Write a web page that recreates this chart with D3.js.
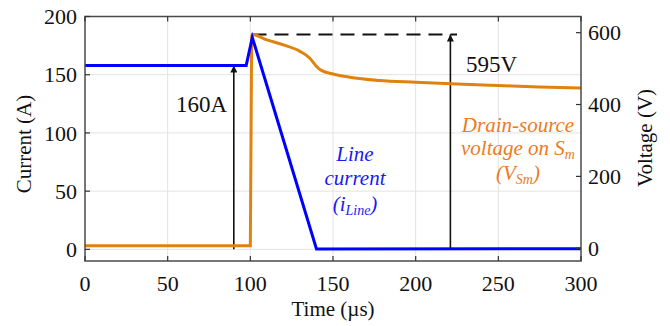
<!DOCTYPE html>
<html>
<head>
<meta charset="utf-8">
<script src="https://cdn.jsdelivr.net/npm/d3@7"></script>
<style>
  body { margin: 0; background: #fff; }
  svg { display: block; }
  #chart text { font-family: 'Times New Roman', 'Liberation Serif', 'DejaVu Serif', 'Noto Serif', Times, serif; }
</style>
</head>
<body>
<svg id="chart" width="670" height="326"></svg>
<script>
// Line current (left axis, A).
const timeI = [0, 97.5, 101.2, 140, 300];
const currentI = [158, 158, 182, 0.3, 0.6];
// Drain-source voltage (right axis, V).
const timeV = [0, 100, 100.8, 101.3, 110, 120, 130, 136, 140, 143, 150, 160, 178, 200, 225, 250, 275, 300];
const voltageV = [7, 7, 588, 595, 580, 566, 548, 529, 506, 495, 485, 476, 467, 462, 457, 453, 449, 446];
// Ticks.
const xTicks = [0, 50, 100, 150, 200, 250, 300];
const yLeftTicks = [0, 50, 100, 150, 200];
const yRightTicks = [0, 200, 400, 600];
// Annotations.
const currentArrow = { t: 90, value: 158, label: "160A" };
const voltageArrow = { t: 221, value: 595, label: "595V" };
const peakLine = { from: 101.3, to: 225, value: 595 };

const svg = d3.select("#chart");
const plot = { left: 85, right: 581, top: 16.5, bottom: 261 };

// Scales.
const x = d3.scaleLinear().domain([0, 300]).range([plot.left, plot.right]);
const yL = d3.scaleLinear().domain([-10, 200]).range([plot.bottom, plot.top]);
const yR = d3.scaleLinear().domain([-35.5, 645]).range([plot.bottom, plot.top]);

// Grid lines.
const grid = svg.append("g").attr("stroke", "#e3e3e3").attr("stroke-width", 1);
xTicks.slice(1, -1).forEach(t => {
  grid.append("line")
    .attr("x1", x(t)).attr("x2", x(t))
    .attr("y1", plot.top).attr("y2", plot.bottom);
});
yLeftTicks.slice(0, -1).forEach(v => {
  grid.append("line")
    .attr("x1", plot.left).attr("x2", plot.right)
    .attr("y1", yL(v)).attr("y2", yL(v));
});

// Clip for the curves.
svg.append("clipPath").attr("id", "clip")
  .append("rect")
  .attr("x", plot.left).attr("y", plot.top)
  .attr("width", plot.right - plot.left).attr("height", plot.bottom - plot.top);

// Dashed line at the peak voltage.
svg.append("line")
  .attr("x1", x(peakLine.from)).attr("x2", x(peakLine.to))
  .attr("y1", yR(peakLine.value)).attr("y2", yR(peakLine.value))
  .attr("stroke", "#111")
  .attr("stroke-width", 2)
  .attr("stroke-dasharray", "14,8");

// Arrows.
svg.append("defs").append("marker")
  .attr("id", "head")
  .attr("viewBox", "0 0 10 10")
  .attr("refX", 10).attr("refY", 5)
  .attr("markerWidth", 10).attr("markerHeight", 7)
  .attr("markerUnits", "userSpaceOnUse")
  .attr("orient", "auto")
  .append("path")
  .attr("d", "M0,0 L10,5 L0,10 Z")
  .attr("fill", "#111");

svg.append("line")
  .attr("x1", x(currentArrow.t)).attr("x2", x(currentArrow.t))
  .attr("y1", yL(0)).attr("y2", yL(currentArrow.value))
  .attr("stroke", "#111").attr("stroke-width", 1.6)
  .attr("marker-end", "url(#head)");
svg.append("line")
  .attr("x1", x(voltageArrow.t)).attr("x2", x(voltageArrow.t))
  .attr("y1", yR(0)).attr("y2", yR(voltageArrow.value))
  .attr("stroke", "#111").attr("stroke-width", 1.6)
  .attr("marker-end", "url(#head)");

// Curves.
const lineI = d3.line().x((d, i) => x(timeI[i])).y(d => yL(d));
const lineV = d3.line().x((d, i) => x(timeV[i])).y(d => yR(d)).curve(d3.curveMonotoneX);

svg.append("path")
  .datum(voltageV)
  .attr("clip-path", "url(#clip)")
  .attr("d", lineV)
  .attr("fill", "none")
  .attr("stroke", "#e0820e")
  .attr("stroke-width", 3);

svg.append("path")
  .datum(currentI)
  .attr("clip-path", "url(#clip)")
  .attr("d", lineI)
  .attr("fill", "none")
  .attr("stroke", "#0000ff")
  .attr("stroke-width", 3);

// Frame.
svg.append("rect")
  .attr("x", plot.left).attr("y", plot.top)
  .attr("width", plot.right - plot.left).attr("height", plot.bottom - plot.top)
  .attr("fill", "none")
  .attr("stroke", "#4a4a4a")
  .attr("stroke-width", 1.5);

// Inward tick marks.
const tickLen = 5;
const ticks = svg.append("g").attr("stroke", "#333").attr("stroke-width", 1.2);
xTicks.forEach(t => {
  ticks.append("line").attr("x1", x(t)).attr("x2", x(t))
    .attr("y1", plot.bottom).attr("y2", plot.bottom - tickLen);
  ticks.append("line").attr("x1", x(t)).attr("x2", x(t))
    .attr("y1", plot.top).attr("y2", plot.top + tickLen);
});
yLeftTicks.forEach(v => {
  ticks.append("line").attr("x1", plot.left).attr("x2", plot.left + tickLen)
    .attr("y1", yL(v)).attr("y2", yL(v));
});
yRightTicks.forEach(v => {
  ticks.append("line").attr("x1", plot.right).attr("x2", plot.right - tickLen)
    .attr("y1", yR(v)).attr("y2", yR(v));
});

function txt(xp, yp) {
  return svg.append("text")
    .attr("x", xp).attr("y", yp)
    .attr("fill", "#111");
}

// Tick labels.
const tickFont = "22px";
xTicks.forEach(t => {
  txt(x(t), 291).attr("text-anchor", "middle").attr("font-size", tickFont).text(t);
});
yLeftTicks.forEach(v => {
  txt(77, yL(v)).attr("dy", "0.35em").attr("text-anchor", "end").attr("font-size", tickFont).text(v);
});
yRightTicks.forEach(v => {
  txt(588, yR(v)).attr("dy", "0.35em").attr("text-anchor", "start").attr("font-size", tickFont).text(v);
});

// Axis titles.
txt((plot.left + plot.right) / 2, 316)
  .attr("text-anchor", "middle").attr("font-size", "21px")
  .text("Time (\u00b5s)");
txt(0, 0)
  .attr("transform", "translate(31,144) rotate(-90)")
  .attr("text-anchor", "middle").attr("font-size", "21px")
  .text("Current (A)");
txt(0, 0)
  .attr("transform", "translate(652,138) rotate(-90)")
  .attr("text-anchor", "middle").attr("font-size", "21px")
  .text("Voltage (V)");

// Value annotations.
txt(227, 112).attr("text-anchor", "end").attr("font-size", "23px").text(currentArrow.label);
txt(466, 72).attr("text-anchor", "start").attr("font-size", "23px").text(voltageArrow.label);

// Curve labels.
const blueText = "#1a1af0";
const orangeText = "#ee7a22";

function label(xc, y, color, parts) {
  const t = txt(xc, y)
    .attr("text-anchor", "middle")
    .attr("font-size", "21px")
    .attr("font-style", "italic")
    .attr("fill", color);
  parts.forEach(p => {
    const s = t.append("tspan").text(p.text);
    if (p.sub) s.attr("font-size", "14px").attr("dy", p.dy);
    else if (p.dy) s.attr("dy", p.dy);
  });
}

label(355, 161, blueText, [{ text: "Line" }]);
label(355, 185, blueText, [{ text: "current" }]);
label(355, 211, blueText, [
  { text: "(i" }, { text: "Line", sub: true, dy: 4 }, { text: ")", dy: -4 }
]);

label(518, 132, orangeText, [{ text: "Drain-source" }]);
label(518, 155, orangeText, [
  { text: "voltage on S" }, { text: "m", sub: true, dy: 4 }
]);
label(518, 180, orangeText, [
  { text: "(V" }, { text: "Sm", sub: true, dy: 4 }, { text: ")", dy: -4 }
]);
</script>
</body>
</html>
